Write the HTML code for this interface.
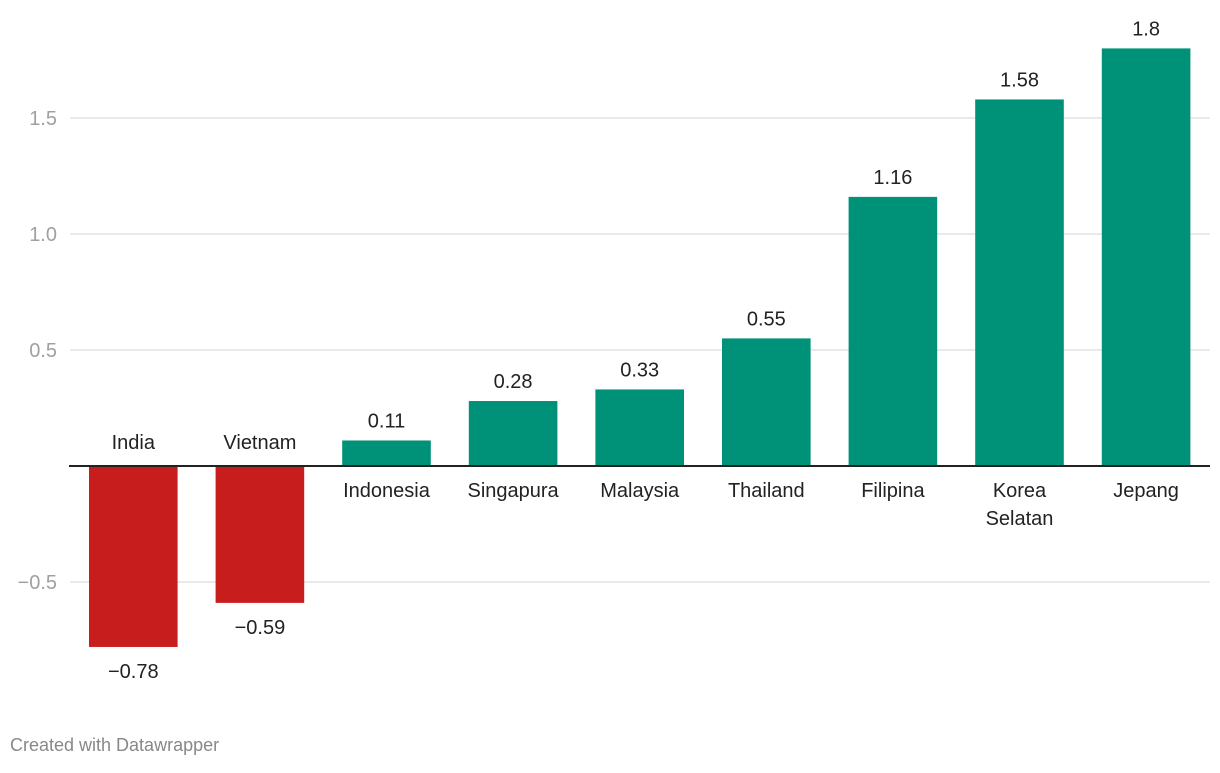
<!DOCTYPE html>
<html><head><meta charset="utf-8"><style>
body{margin:0;background:#fff;width:1220px;height:768px;overflow:hidden;font-family:"Liberation Sans",sans-serif}
</style></head><body>
<svg width="1220" height="768" xmlns="http://www.w3.org/2000/svg">
<g id="grid"></g><g id="bars"></g><g id="labels"></g>
<text x="10" y="751" font-size="18" fill="#888">Created with Datawrapper</text>
</svg>
<script>
const categories=["India","Vietnam","Indonesia","Singapura","Malaysia","Thailand","Filipina","Korea Selatan","Jepang"];
const values=[-0.78,-0.59,0.11,0.28,0.33,0.55,1.16,1.58,1.8];
const valueLabels=["−0.78","−0.59","0.11","0.28","0.33","0.55","1.16","1.58","1.8"];
const ticks=[-0.5,0.5,1.0,1.5];
const tickLabels=["−0.5","0.5","1.0","1.5"];
const NS="http://www.w3.org/2000/svg";
const y=v=>466-v*232;
const x=i=>89+i*126.6;
const bw=88.6;
function mk(t,a,p){const e=document.createElementNS(NS,t);for(const k in a)e.setAttribute(k,a[k]);p.appendChild(e);return e;}
const G=document.getElementById('grid'),B=document.getElementById('bars'),L=document.getElementById('labels');
ticks.forEach((t,i)=>{
 const ln=mk('line',{x1:70,x2:1210,y1:y(t),y2:y(t),stroke:'#e2e2e2','stroke-width':1.5},G);
 
 
 const tx=mk('text',{x:57,y:y(t)+7,'text-anchor':'end','font-size':20,fill:'#a0a0a0'},G);
 tx.textContent=tickLabels[i];
 
 
});
values.forEach((v,i)=>{
 const top=Math.min(y(v),y(0)),h=Math.abs(y(v)-y(0));
 const r=mk('rect',{x:x(i),y:top,width:bw,height:h,fill:v<0?'#c71e1d':'#009279'},B);
 
 
 const cx=x(i)+bw/2;
 const vl=mk('text',{x:cx,y:v>=0?y(v)-13:y(v)+31,'text-anchor':'middle','font-size':20,fill:'#222'},L);
 vl.textContent=valueLabels[i];
 
 
 const words=categories[i].split(' ');
 words.forEach((w,j)=>{
  const cl=mk('text',{x:cx,y:v<0?449:497+j*28,'text-anchor':'middle','font-size':20,fill:'#222'},L);
  cl.textContent=w;
  
  
 });
});
const z=mk('line',{x1:69,x2:1210,y1:y(0),y2:y(0),stroke:'#222','stroke-width':2},L);


</script>
</body></html>
